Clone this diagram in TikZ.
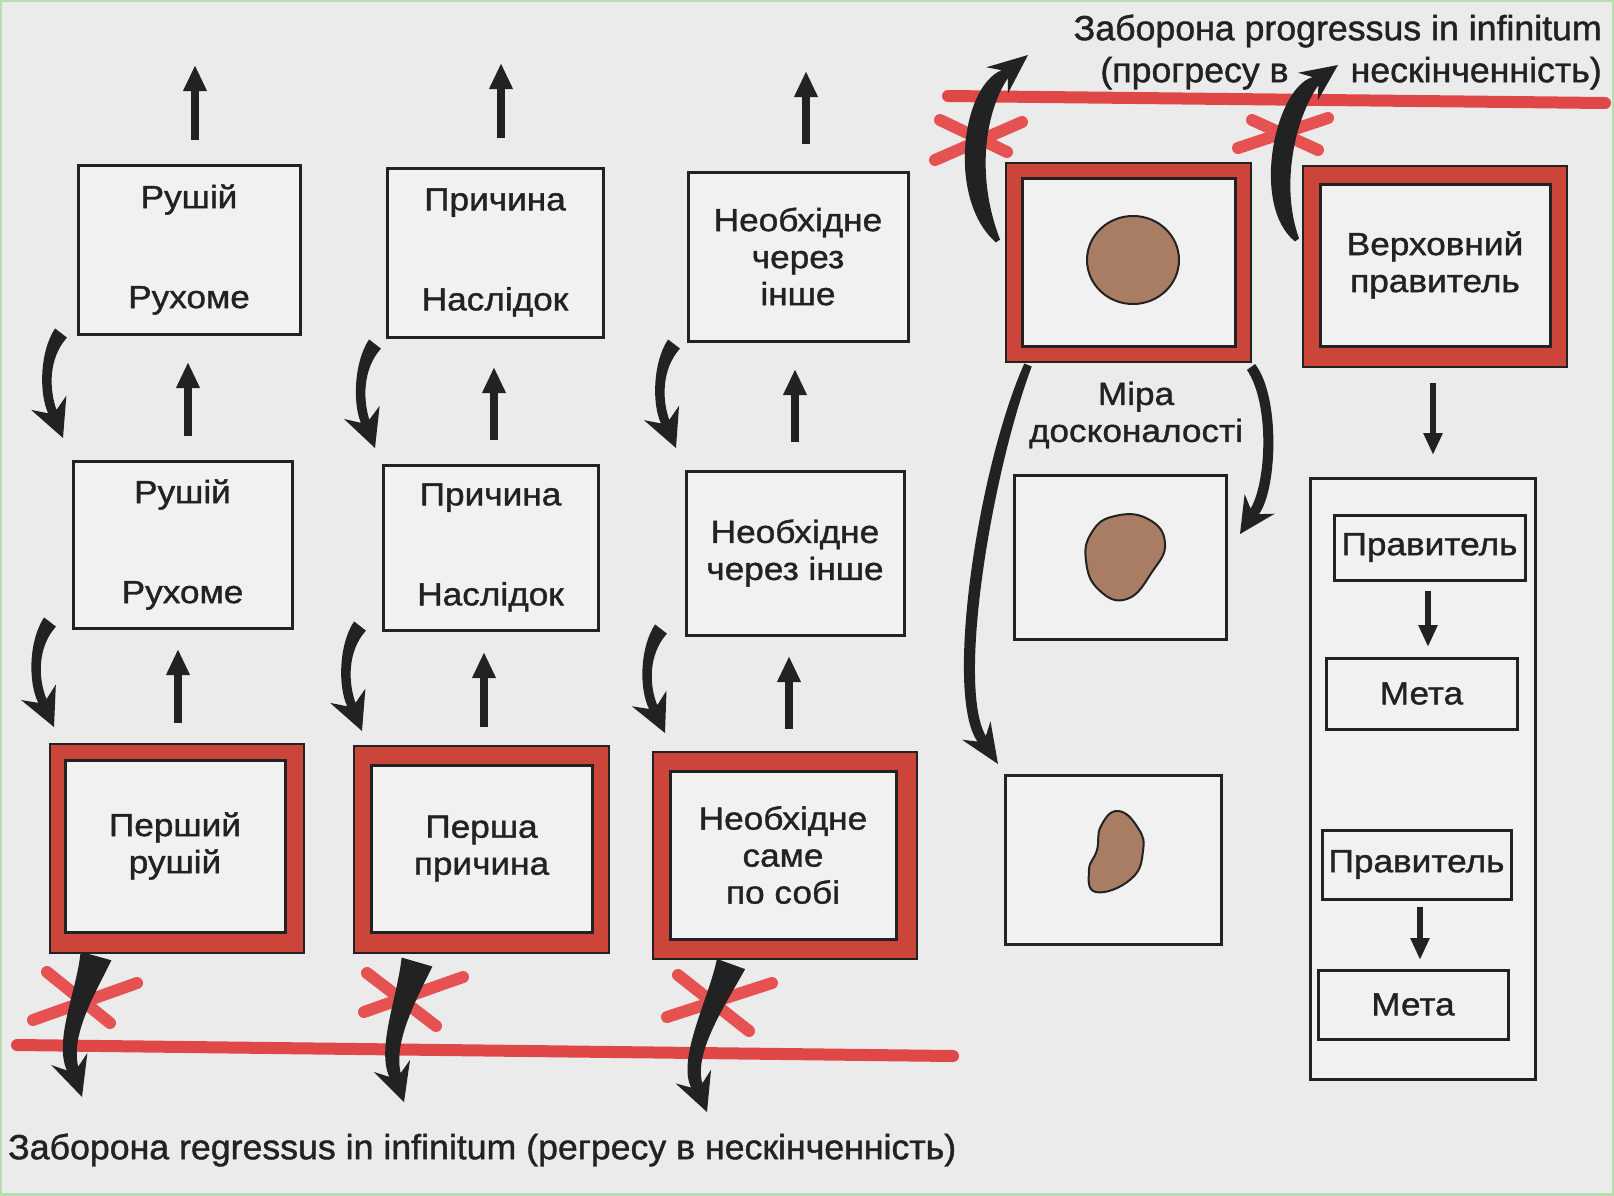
\documentclass[tikz,border=0pt]{standalone}
\usepackage{fontspec}
\setmainfont{Liberation Sans}
\newfontfamily\boxfont{Liberation Sans}[FakeStretch=1.1,FakeBold=1.2]
\newfontfamily\capfont{Liberation Sans}[FakeStretch=1.02,FakeBold=1.2]
\usetikzlibrary{arrows.meta,calc}
\definecolor{paper}{HTML}{EBEBEB}
\definecolor{boxfill}{HTML}{F1F1F1}
\definecolor{ink}{HTML}{222222}
\definecolor{framered}{HTML}{CC453A}
\definecolor{linered}{HTML}{E04848}
\definecolor{xred}{HTML}{E65252}
\definecolor{blob}{HTML}{A97D63}
\definecolor{greenedge}{HTML}{B8DDB0}
\newcommand\boxtext{\boxfont\fontsize{32}{37}\selectfont}
\newcommand\captext{\capfont\fontsize{35}{42}\selectfont}
% tapered arrow: #1 start, #2 c1, #3 c2, #4 tip, #5 start half-width, #6 middle half-width,
% #7 end half-width, #8 head length, #9 head half-width
\newcommand\taperarrow[9]{%
  \coordinate (tP0) at #1; \coordinate (tC1) at #2; \coordinate (tC2) at #3; \coordinate (tT) at #4;
  \coordinate (tB) at ($(tT)!#8!(tC2)$);
  \coordinate (tI) at ($(tT)!0.75!(tB)$);
  \coordinate (tL0) at ($(tP0)!#5!90:(tC1)$);
  \coordinate (tR0) at ($(tP0)!#5!-90:(tC1)$);
  \coordinate (tn0) at ($(tP0)!#6!90:(tC1)$);
  \coordinate (tL1) at ($(tC1)+(tn0)-(tP0)$);
  \coordinate (tR1) at ($(tC1)-(tn0)+(tP0)$);
  \coordinate (tn3) at ($(tI)!#6!-90:(tC2)$);
  \coordinate (tL2) at ($(tC2)+(tn3)-(tI)$);
  \coordinate (tR2) at ($(tC2)-(tn3)+(tI)$);
  \coordinate (tL3) at ($(tI)!#7!-90:(tC2)$);
  \coordinate (tR3) at ($(tI)!#7!90:(tC2)$);
  \coordinate (tBL) at ($(tB)!#9!-90:(tC2)$);
  \coordinate (tBR) at ($(tB)!#9!90:(tC2)$);
  \fill[ink] (tL0) .. controls (tL1) and (tL2) .. (tL3) -- (tBL) -- (tT) -- (tBR) -- (tR3)
     .. controls (tR2) and (tR1) .. (tR0) -- cycle;
}
\begin{document}
\begin{tikzpicture}[x=1pt,y=-1pt,
  box/.style={draw=ink, line width=3pt, fill=boxfill, inner sep=0pt, font=\boxtext, align=center, text=ink},
  redframe/.style={draw=ink, line width=2.5pt, fill=framered, inner sep=0pt},
  uparr/.style={draw=ink, line width=8pt, -{Triangle[length=26pt,width=22pt]}},
  downarr/.style={draw=ink, line width=6pt, -{Triangle[length=22pt,width=18pt]}},
  redline/.style={draw=linered, line width=12pt, line cap=round},
  xmark/.style={draw=xred, line width=12pt, line cap=round},
  blobshape/.style={draw=ink, line width=2pt, fill=blob},
  captionstyle/.style={font=\captext, text=ink, inner sep=0pt}
]
\useasboundingbox (0,0) rectangle (1614,1195);
\fill[paper] (0,0) rectangle (1614,1195);
\draw[greenedge, line width=4pt] (0,0) rectangle (1614,1195);

% ---------- left grid: top row ----------
\node[box, minimum width=222, minimum height=169] (t1) at (189,249.5) {Рушій\\[63pt]Рухоме};
\node[box, minimum width=216, minimum height=169] (t2) at (495,252.5) {Причина\\[63pt]Наслідок};
\node[box, minimum width=220, minimum height=169] (t3) at (798,256.5) {Необхідне\\через\\інше};
% middle row
\node[box, minimum width=219, minimum height=167] (m1) at (182.5,544.5) {Рушій\\[63pt]Рухоме};
\node[box, minimum width=215, minimum height=165] (m2) at (490.5,547.5) {Причина\\[63pt]Наслідок};
\node[box, minimum width=218, minimum height=164] (m3) at (795,553) {Необхідне\\через інше};
% bottom row (red frames)
\node[redframe, minimum width=254, minimum height=209] (b1f) at (177,848.5) {};
\node[box, minimum width=220, minimum height=172] (b1) at (175,846) {Перший\\рушій};
\node[redframe, minimum width=255, minimum height=207] (b2f) at (481.5,849.5) {};
\node[box, minimum width=221, minimum height=167] (b2) at (481.5,848.5) {Перша\\причина};
\node[redframe, minimum width=264, minimum height=207] (b3f) at (785,855.5) {};
\node[box, minimum width=226, minimum height=168] (b3) at (783,855) {Необхідне\\саме\\по собі};

% ---------- right part ----------
\node[redframe, minimum width=245, minimum height=199] (s1f) at (1128.5,262.5) {};
\node[box, minimum width=213, minimum height=168] (s1) at (1128.5,262) {};
\node[redframe, minimum width=264, minimum height=201] (vf) at (1435,266.5) {};
\node[box, minimum width=230, minimum height=162] (v) at (1435,265) {Верховний\\правитель};
\node[box, minimum width=212, minimum height=164] (s2) at (1120,557) {};
\node[box, minimum width=216, minimum height=169] (s3) at (1113,859.5) {};
\node[font=\boxtext, text=ink, align=center, inner sep=0pt] (mira) at (1136,415) {Міра\\досконалості};

\node[box, minimum width=225, minimum height=601] (tall) at (1422.5,778.5) {};
\node[box, minimum width=191, minimum height=65] (r1) at (1429.5,547.5) {Правитель};
\node[box, minimum width=191, minimum height=71] (g1) at (1421.5,693.5) {Мета};
\node[box, minimum width=189, minimum height=69] (r2) at (1416.5,864.5) {Правитель};
\node[box, minimum width=190, minimum height=69] (g2) at (1413,1004.5) {Мета};

% blobs
\draw[blobshape] (1133,260) ellipse [x radius=46, y radius=44];
\draw[blobshape] plot[smooth cycle, tension=0.8] coordinates {(1092,532) (1115,516) (1148,519) (1165,543) (1152,572) (1127,599) (1099,590) (1086,561)};
\draw[blobshape] plot[smooth cycle, tension=0.8] coordinates {(1118,811) (1138,828) (1143,851) (1131,879) (1096,892) (1089,870) (1097,850) (1101,826)};

% ---------- red bars and crosses ----------
\draw[redline] (17,1045) -- (953,1056);
\draw[redline] (948,96) -- (1605,103);
\draw[xmark] (47,972) -- (110,1023);
\draw[xmark] (33,1020) -- (137,983);
\draw[xmark] (367,973) -- (436,1026);
\draw[xmark] (364,1012) -- (463,977);
\draw[xmark] (678,975) -- (749,1031);
\draw[xmark] (667,1017) -- (772,983);
\draw[xmark] (940,120) -- (1007,152);
\draw[xmark] (935,160) -- (1022,122);
\draw[xmark] (1252,120) -- (1318,150);
\draw[xmark] (1238,148) -- (1328,118);

% ---------- captions ----------
\node[captionstyle, anchor=east, align=right] (ptext) at (1602,52) {Заборона progressus in infinitum\\(прогресу в\hspace{62pt}нескінченність)};
\node[captionstyle, anchor=west] (rtext) at (8,1150) {Заборона regressus in infinitum (регресу в нескінченність)};

% ---------- straight arrows ----------
\coordinate (u1a) at (195,140); \coordinate (u1b) at (195,65);
\coordinate (u2a) at (501,138); \coordinate (u2b) at (501,63);
\coordinate (u3a) at (806,144); \coordinate (u3b) at (806,71);
\draw[uparr] (u1a) -- (u1b);
\draw[uparr] (u2a) -- (u2b);
\draw[uparr] (u3a) -- (u3b);
\draw[uparr] (188,436) -- (188,362);
\draw[uparr] (494,440) -- (494,367);
\draw[uparr] (795,442) -- (795,369);
\draw[uparr] (178,723) -- (178,649);
\draw[uparr] (484,727) -- (484,652);
\draw[uparr] (789,729) -- (789,656);
\draw[downarr] (1433,383) -- (1433,455);
\draw[downarr] (1428,591) -- (1428,647);
\draw[downarr] (1420,907) -- (1420,960);

% ---------- curved arrows (left grid) ----------
\taperarrow{(61,333)}{(44,355)}{(44,391)}{(63,438)}{7.5pt}{5.5pt}{4.5pt}{38pt}{19pt}
\taperarrow{(375,344)}{(358,366)}{(358,402)}{(375,448)}{7.5pt}{5.5pt}{4.5pt}{38pt}{19pt}
\taperarrow{(674,344)}{(657,366)}{(657,402)}{(676,448)}{7.5pt}{5.5pt}{4.5pt}{38pt}{19pt}
\taperarrow{(50,622)}{(33,644)}{(33,680)}{(54,727)}{7.5pt}{5.5pt}{4.5pt}{38pt}{19pt}
\taperarrow{(360,626)}{(343,648)}{(343,684)}{(362,731)}{7.5pt}{5.5pt}{4.5pt}{38pt}{19pt}
\taperarrow{(661,629)}{(644,651)}{(644,687)}{(665,733)}{7.5pt}{5.5pt}{4.5pt}{38pt}{19pt}

% crossed arrows at bottom
\taperarrow{(96,956)}{(86,992)}{(62,1037)}{(82,1097)}{16pt}{9pt}{6pt}{40pt}{19pt}
\taperarrow{(417,962)}{(406,1000)}{(385,1045)}{(404,1102)}{16pt}{9pt}{6pt}{38pt}{19pt}
\taperarrow{(731,964)}{(718,1000)}{(685,1055)}{(707,1112)}{15pt}{9pt}{6pt}{38pt}{19pt}

% progressus arrows
\taperarrow{(998,241)}{(962,190)}{(972,101)}{(1028,55)}{2.5pt}{18pt}{5pt}{40pt}{17pt}
\taperarrow{(1297,240)}{(1265,195)}{(1285,103)}{(1338,65)}{2.5pt}{18pt}{5pt}{37pt}{17pt}

% Mira arrows
\taperarrow{(1251,367)}{(1275,400)}{(1272,485)}{(1240,534)}{5pt}{6.5pt}{5pt}{36pt}{18pt}
\taperarrow{(1028,365)}{(985,470)}{(950,690)}{(998,764)}{4pt}{7.5pt}{5pt}{40pt}{17pt}
\end{tikzpicture}
\end{document}
